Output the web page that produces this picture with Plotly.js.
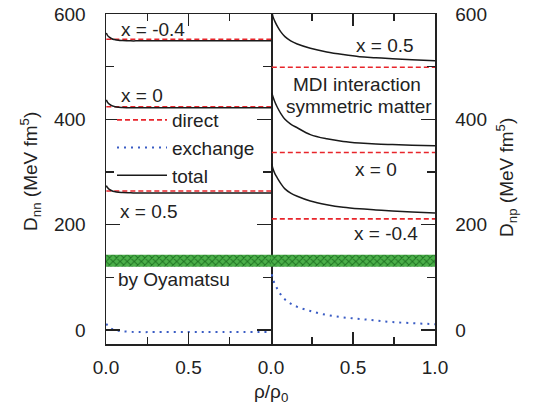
<!DOCTYPE html>
<html>
<head>
<meta charset="utf-8">
<script src="https://cdn.plot.ly/plotly-3.0.1.min.js"></script>
<style>html,body{margin:0;padding:0;background:#fff}#chart{width:540px;height:414px}</style>
</head>
<body>
<div id="chart"></div>
<script>
// ---- data ----
const asymLabels = ["x = -0.4", "x = 0", "x = 0.5"];

// Left panel: D_nn
const rhoNN = [0.002, 0.01, 0.02, 0.035, 0.05, 0.075, 0.1, 0.15, 0.2, 0.3, 0.5, 0.7, 1.0];
const directNN = { m04: 552, x0: 424, p05: 264 };
const exchangeNN = [12, 8, 5, 2, 0, -1.5, -2.5, -3.5, -4, -4, -4, -4, -4];
const totalNN_m04 = [564, 559, 556, 553, 551.5, 550, 549.5, 549, 549, 549, 549, 549, 549];
const totalNN_x0  = [437, 432, 429, 426, 424.5, 423, 422.5, 422, 422, 422, 422, 422, 422];
const totalNN_p05 = [274, 270, 267, 264.5, 263, 261.5, 261, 260.5, 260, 260, 260, 260, 260];

// Right panel: D_np
const rhoNP = [0.005, 0.012, 0.025, 0.04, 0.06, 0.085, 0.12, 0.16, 0.24, 0.34, 0.44, 0.54, 0.64, 0.74, 0.86, 1.0];
const directNP = { p05: 499, x0: 337, m04: 211 };
const exchangeNP = [106, 96, 86, 77, 67, 58, 50, 44, 36, 28.5, 24, 21, 18, 15, 13, 11];
const totalNP_p05 = [605, 595, 585, 576, 566, 557, 549, 543, 535, 528, 523, 519, 517, 515, 513, 511];
const totalNP_x0  = [450, 443, 432, 422, 411, 400, 391, 384, 371, 363, 358, 355, 353, 352, 351, 350];
const totalNP_m04 = [316, 306, 296, 288, 278, 268, 260, 254, 245, 238, 233, 230, 228, 226, 224, 222];

// Oyamatsu band
const bandX = [0, 1];
const bandLow = [120, 120];
const bandHigh = [143, 143];

const xTickVals = [0, 0.5, 1];
const xTickTextL = ["0.0", "0.5", ""];
const xTickTextR = ["0.0", "0.5", "1.0"];
const yTickVals = [0, 200, 400, 600];
const yMinorVals = [100, 300, 500];

// ---- styles ----
const RED = '#e8252b', BLUE = '#3a5cc4', BLACK = '#1a1a1a';
const FONT = 'Liberation Sans, Arial, Helvetica, sans-serif';
const TXT = '#222';
const dashStyle = {color: RED, width: 1.6, dash: '5px,3px'};
const dotStyle = {color: BLUE, width: 2, dash: '2px,5px'};
const solidStyle = {color: BLACK, width: 1.5};

const traces = [];
function band(xa, ya) {
  traces.push({x: bandX, y: bandLow, xaxis: xa, yaxis: ya, mode: 'lines', line: {width: 0}, showlegend: false, hoverinfo: 'skip'});
  traces.push({x: bandX, y: bandHigh, xaxis: xa, yaxis: ya, mode: 'lines', line: {width: 0}, fill: 'tonexty',
    fillcolor: '#47ad45', fillpattern: {shape: 'x', bgcolor: '#4cb04a', fgcolor: '#1f7423', size: 5, solidity: 0.35},
    showlegend: false, hoverinfo: 'skip'});
}
band('x', 'y');
band('x2', 'y2');

function constLine(rho, v) { return rho.map(() => v); }

// left panel
[['m04', totalNN_m04], ['x0', totalNN_x0], ['p05', totalNN_p05]].forEach(([k, tot], i) => {
  traces.push({x: rhoNN, y: constLine(rhoNN, directNN[k]), xaxis: 'x', yaxis: 'y', mode: 'lines', line: dashStyle,
    name: 'direct', showlegend: i === 0, legendrank: 1});
  traces.push({x: rhoNN, y: tot, xaxis: 'x', yaxis: 'y', mode: 'lines', line: {...solidStyle, shape: 'spline'},
    name: 'total', showlegend: i === 0, legendrank: 3});
});
traces.push({x: rhoNN, y: exchangeNN, xaxis: 'x', yaxis: 'y', mode: 'lines', line: {...dotStyle, shape: 'spline'},
  name: 'exchange', showlegend: true, legendrank: 2});

// right panel
[['p05', totalNP_p05], ['x0', totalNP_x0], ['m04', totalNP_m04]].forEach(([k, tot]) => {
  traces.push({x: rhoNP, y: constLine(rhoNP, directNP[k]), xaxis: 'x2', yaxis: 'y2', mode: 'lines', line: dashStyle, showlegend: false});
  traces.push({x: rhoNP, y: tot, xaxis: 'x2', yaxis: 'y2', mode: 'lines', line: {...solidStyle, shape: 'spline'}, showlegend: false});
});
traces.push({x: rhoNP, y: exchangeNP, xaxis: 'x2', yaxis: 'y2', mode: 'lines', line: {...dotStyle, shape: 'spline'}, showlegend: false});

const W = 540, H = 414, L = 106, R = 105, T = 14, B = 70;
const pw = W - L - R, ph = H - T - B;
const px = (xp) => (xp - L) / pw;
const py = (yp) => 1 - (yp - T) / ph;

const axX = {
  range: [0, 1], tickmode: 'array', tickvals: xTickVals, ticks: 'inside', ticklen: 12, tickwidth: 1.3, tickcolor: '#222',
  showline: true, linecolor: '#222', linewidth: 1.5, mirror: 'ticks', showgrid: false, zeroline: false,
  tickfont: {size: 19, color: TXT, family: FONT}, ticklabelstandoff: 6,
  minor: {tickvals: [0.25, 0.75], ticks: 'inside', ticklen: 7, tickwidth: 1.3, tickcolor: '#222', showgrid: false}
};
const axY = {
  range: [-26.6, 600], tickmode: 'array', tickvals: yTickVals, ticks: 'inside', ticklen: 14, tickwidth: 1.3, tickcolor: '#222',
  showline: true, linecolor: '#222', linewidth: 1.5, showgrid: false, zeroline: false,
  tickfont: {size: 19, color: TXT, family: FONT}, ticklabelstandoff: 15,
  minor: {tickvals: yMinorVals, ticks: 'inside', ticklen: 8, tickwidth: 1.3, tickcolor: '#222', showgrid: false}
};

const ann = (text, xp, yp, xanchor) => ({text, x: px(xp), y: py(yp), xref: 'paper', yref: 'paper',
  xanchor: xanchor || 'left', yanchor: 'middle', showarrow: false, font: {size: 19, color: TXT, family: FONT}});

const layout = {
  width: W, height: H, margin: {l: L, r: R, t: T, b: B},
  paper_bgcolor: '#fff', plot_bgcolor: 'rgba(0,0,0,0)',
  font: {family: FONT, size: 19, color: TXT},
  xaxis: {...axX, domain: [0, 165 / pw], anchor: 'y', ticktext: xTickTextL},
  xaxis2: {...axX, domain: [165 / pw, 1], anchor: 'y2', ticktext: xTickTextR},
  yaxis: {...axY, anchor: 'x', side: 'left', mirror: 'ticks'},
  yaxis2: {...axY, anchor: 'x2', side: 'right', mirror: false},
  showlegend: true,
  legend: {x: px(112), y: py(101), xanchor: 'left', yanchor: 'top', bgcolor: 'rgba(0,0,0,0)', traceorder: 'normal',
    font: {size: 19, color: TXT, family: FONT}, tracegroupgap: 0, itemwidth: 50},
  annotations: [
    ann(asymLabels[0], 119, 30),
    ann(asymLabels[1], 119, 95),
    ann(asymLabels[2], 118, 211),
    ann('by Oyamatsu', 116, 279),
    ann(asymLabels[2], 385, 46, 'center'),
    ann('MDI interaction', 357, 84, 'center'),
    ann('symmetric matter', 359, 106, 'center'),
    ann(asymLabels[1], 376, 169, 'center'),
    ann(asymLabels[0], 386, 233, 'center'),
    {text: 'ρ/ρ<sub>0</sub>', x: px(271), y: py(393), xref: 'paper', yref: 'paper', xanchor: 'center', yanchor: 'middle',
      showarrow: false, font: {size: 19, color: TXT, family: FONT}},
    {text: 'D<sub>nn</sub> (MeV fm<sup>5</sup>)', x: px(30), y: py(172), xref: 'paper', yref: 'paper', xanchor: 'center', yanchor: 'middle',
      textangle: -90, showarrow: false, font: {size: 19, color: TXT, family: FONT}},
    {text: 'D<sub>np</sub> (MeV fm<sup>5</sup>)', x: px(506), y: py(178), xref: 'paper', yref: 'paper', xanchor: 'center', yanchor: 'middle',
      textangle: -90, showarrow: false, font: {size: 19, color: TXT, family: FONT}}
  ]
};

Plotly.newPlot('chart', traces, layout, {staticPlot: true, displayModeBar: false});
</script>
</body>
</html>
